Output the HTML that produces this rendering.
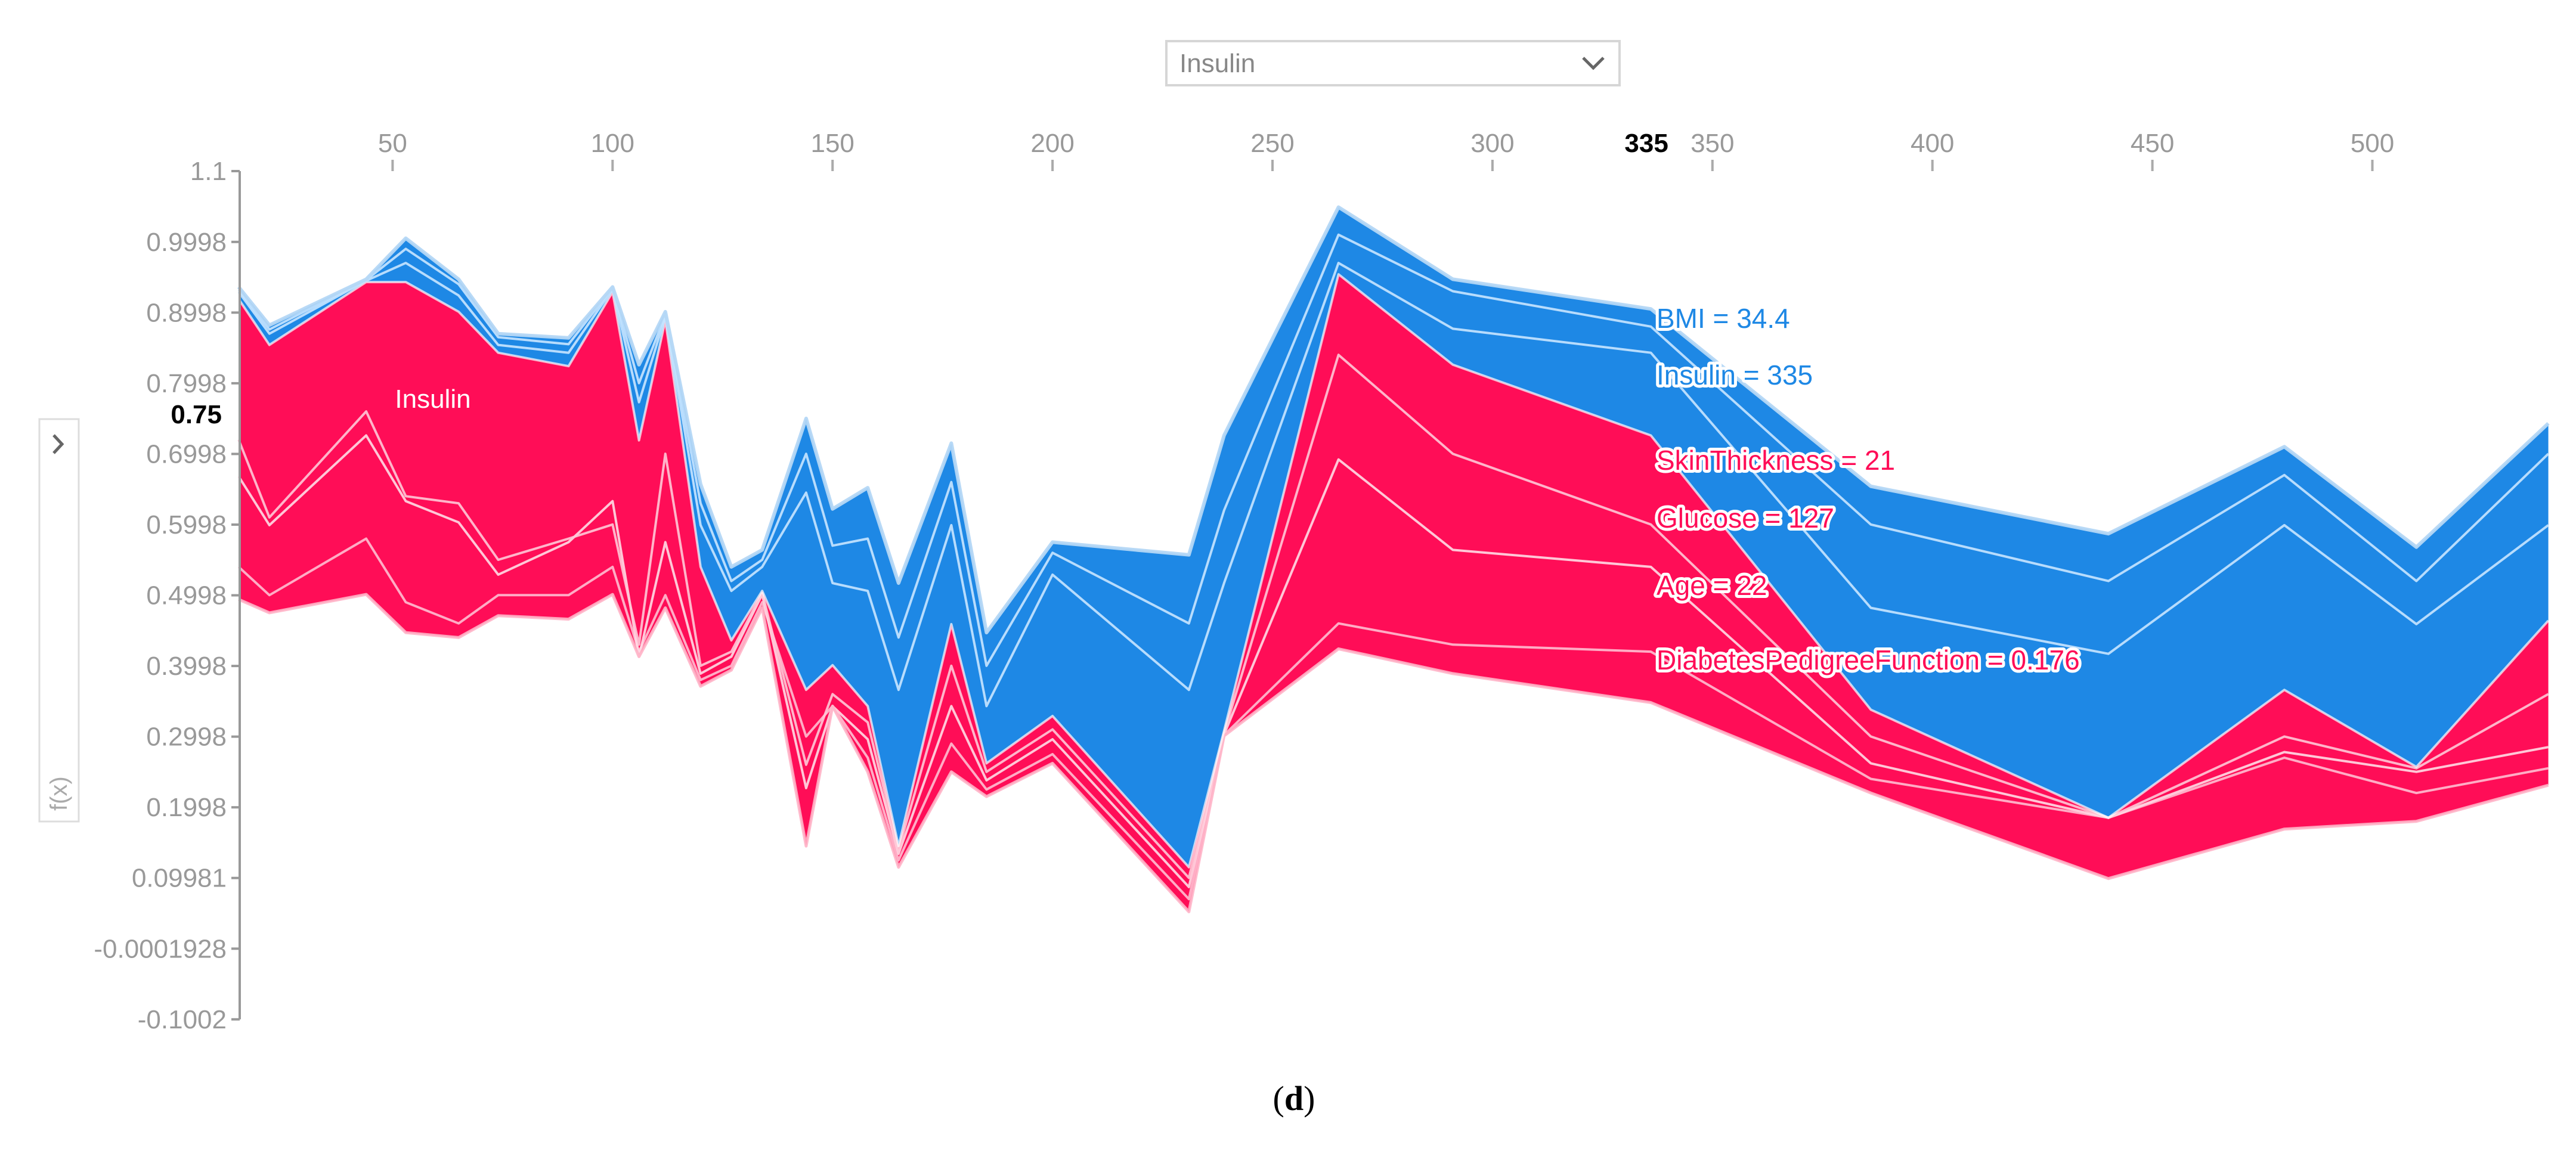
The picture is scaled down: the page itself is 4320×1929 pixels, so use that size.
<!DOCTYPE html>
<html><head><meta charset="utf-8"><style>
html,body{margin:0;padding:0;background:#fff;}
svg{display:block;font-family:"Liberation Sans",Arial,sans-serif;}
</style></head><body>
<svg id="chart" width="4320" height="1929" viewBox="0 0 4320 1929">
  <g>
    <rect x="1956" y="69" width="760" height="74" fill="#fff" stroke="#d6d6d6" stroke-width="4"/>
    <text x="1978" y="121" font-size="44" fill="#888">Insulin</text>
    <polyline points="2655,97 2672,114 2689,97" fill="none" stroke="#666" stroke-width="5"/>
  </g>
  <g>
    <rect x="66" y="703" width="66" height="675" fill="#fff" stroke="#ddd" stroke-width="3"/>
    <polyline points="90,730 104,745 90,760" fill="none" stroke="#666" stroke-width="5"/>
    <text transform="translate(112,1360) rotate(-90)" font-size="40" fill="#aaa">f(x)</text>
  </g>
  <g id="plot"></g>
  <g id="axes"></g>
  <text x="2170" y="1862" font-size="58" font-family="'Liberation Serif',serif" text-anchor="middle">(<tspan font-weight="bold">d</tspan>)</text>
</svg>
<script>
const insulin = [15,22,44,53,65,74,90,100,106,112,120,127,134,144,150,158,165,177,185,200,231,239,265,291,336,386,440,480,510,540];
const bottomVals = [0.494,0.475,0.501,0.447,0.440,0.471,0.466,0.501,0.413,0.482,0.371,0.394,0.482,0.145,0.343,0.250,0.115,0.250,0.215,0.262,0.052,0.301,0.424,0.389,0.348,0.220,0.099,0.169,0.180,0.231];
const redLowVals = [0.540,0.500,0.580,0.490,0.460,0.500,0.500,0.540,0.420,0.500,0.380,0.400,0.490,0.300,0.343,0.270,0.125,0.290,0.225,0.275,0.070,0.302,0.460,0.430,0.420,0.240,0.185,0.270,0.220,0.255];
const redMidVals = [0.668,0.599,0.726,0.633,0.603,0.529,0.575,0.633,0.413,0.575,0.389,0.413,0.501,0.227,0.343,0.296,0.134,0.343,0.238,0.296,0.087,0.303,0.692,0.564,0.540,0.262,0.185,0.278,0.250,0.285];
const redHighVals = [0.720,0.610,0.760,0.640,0.630,0.550,0.580,0.600,0.430,0.700,0.400,0.420,0.503,0.260,0.360,0.320,0.140,0.400,0.250,0.310,0.100,0.305,0.840,0.700,0.600,0.300,0.185,0.300,0.255,0.360];
const outputVals = [0.919,0.854,0.943,0.943,0.901,0.843,0.824,0.929,0.719,0.889,0.540,0.436,0.506,0.366,0.401,0.343,0.145,0.459,0.262,0.329,0.115,0.308,0.954,0.826,0.726,0.338,0.185,0.366,0.257,0.464];
const blueMidVals = [0.929,0.870,0.945,0.970,0.924,0.854,0.843,0.933,0.773,0.894,0.599,0.506,0.540,0.645,0.517,0.506,0.366,0.599,0.343,0.529,0.366,0.517,0.970,0.877,0.843,0.482,0.417,0.599,0.459,0.599];
const blueHighVals = [0.932,0.876,0.946,0.990,0.940,0.865,0.855,0.935,0.800,0.897,0.630,0.520,0.550,0.700,0.570,0.580,0.440,0.660,0.400,0.560,0.460,0.620,1.010,0.930,0.880,0.600,0.520,0.670,0.520,0.700];
const topVals = [0.936,0.882,0.947,1.005,0.947,0.870,0.864,0.936,0.826,0.901,0.657,0.540,0.564,0.750,0.622,0.652,0.517,0.715,0.447,0.575,0.557,0.726,1.049,0.947,0.905,0.654,0.587,0.710,0.568,0.743];
const yTickVals = [1.1,0.9998,0.8998,0.7998,0.6998,0.5998,0.4998,0.3998,0.2998,0.1998,0.09981,-0.0001928,-0.1002];
const yTickLabels = ["1.1","0.9998","0.8998","0.7998","0.6998","0.5998","0.4998","0.3998","0.2998","0.1998","0.09981","-0.0001928","-0.1002"];
const xTickVals = [50,100,150,200,250,300,350,400,450,500];
const featureLabels = ["BMI = 34.4","Insulin = 335","SkinThickness = 21","Glucose = 127","Age = 22","DiabetesPedigreeFunction = 0.176"];
const featureLabelColors = ["#1e88e5","#1e88e5","#ff0d57","#ff0d57","#ff0d57","#ff0d57"];
const baseValue = 0.75;
const hoverX = 335;

const NS = "http://www.w3.org/2000/svg";
const X = v => 658.4 + (v - 50) * 7.378;
const Y = v => 287 + (1.1 - v) * 1185.5;
function mk(tag, attrs, parent){const e=document.createElementNS(NS,tag);for(const k in attrs)e.setAttribute(k,attrs[k]);parent.appendChild(e);return e;}
const plot = document.getElementById('plot');
const axes = document.getElementById('axes');

function band(lo, hi, color, name){
  let d = insulin.map((x,i)=>(i?'L':'M')+X(x).toFixed(1)+','+Y(hi[i]).toFixed(1)).join('');
  for(let i=insulin.length-1;i>=0;i--) d += 'L'+X(insulin[i]).toFixed(1)+','+Y(lo[i]).toFixed(1);
  const p = mk('path',{d:d+'Z',fill:color},plot);
  
  
}
function line(vals, color, w, name){
  const d = insulin.map((x,i)=>(i?'L':'M')+X(x).toFixed(1)+','+Y(vals[i]).toFixed(1)).join('');
  const p = mk('path',{d:d,fill:'none',stroke:color,'stroke-width':w,'stroke-linejoin':'round'},plot);
  
  
}
band(bottomVals, outputVals, '#ff0d57', 'positive-contribution-area');
band(outputVals, topVals, '#1e88e5', 'negative-contribution-area');
line(redLowVals, 'rgba(255,190,210,0.9)', 4, 'red-feature-boundary-low');
line(redMidVals, 'rgba(255,220,230,0.9)', 4, 'red-feature-boundary');
line(redHighVals, 'rgba(255,200,215,0.9)', 4, 'red-feature-boundary-high');
line(bottomVals, 'rgba(255,180,200,0.9)', 5, 'red-bottom-edge');
line(outputVals, 'rgba(255,255,255,0.7)', 4, 'output-boundary');
line(blueMidVals, 'rgba(200,230,255,0.9)', 4, 'blue-feature-boundary');
line(blueHighVals, 'rgba(200,230,255,0.9)', 4, 'blue-feature-boundary-high');
line(topVals, 'rgba(180,215,245,0.95)', 6, 'blue-top-edge');

const ya = mk('line',{x1:402,y1:Y(1.1),x2:402,y2:Y(-0.1002),stroke:'#999','stroke-width':4},axes);


yTickVals.forEach((v,i)=>{
  const t = mk('line',{x1:388,y1:Y(v),x2:402,y2:Y(v),stroke:'#999','stroke-width':4},axes);
  
  
  const l = mk('text',{x:380,y:Y(v)+15,'font-size':44,fill:'#999','text-anchor':'end'},axes);
  l.textContent = yTickLabels[i];
  
  
});
const bv = mk('text',{x:372,y:Y(baseValue)+8,'font-size':44,'font-weight':'bold',fill:'#000','text-anchor':'end',stroke:'#fff','stroke-width':6,'paint-order':'stroke'},axes);
bv.textContent = String(baseValue);



xTickVals.forEach(v=>{
  const t = mk('line',{x1:X(v),y1:268,x2:X(v),y2:287,stroke:'#aaa','stroke-width':4},axes);
  
  
  const l = mk('text',{x:X(v),y:255,'font-size':44,fill:'#999','text-anchor':'middle'},axes);
  l.textContent = String(v);
  
  
});
const hx = mk('text',{x:X(hoverX),y:255,'font-size':44,'font-weight':'bold',fill:'#000','text-anchor':'middle'},axes);
hx.textContent = String(hoverX);



const ins = mk('text',{x:X(50)+4,y:684,'font-size':44,fill:'#fff'},axes);
ins.textContent = 'Insulin';


const labelY = [550,645,788,885,998,1123];
featureLabels.forEach((s,i)=>{
  const t = mk('text',{x:2778,y:labelY[i],'font-size':46,fill:featureLabelColors[i],stroke:'#fff','stroke-width':10,'paint-order':'stroke','stroke-linejoin':'round'},axes);
  t.textContent = s;
  
  
});
</script>
</body></html>
